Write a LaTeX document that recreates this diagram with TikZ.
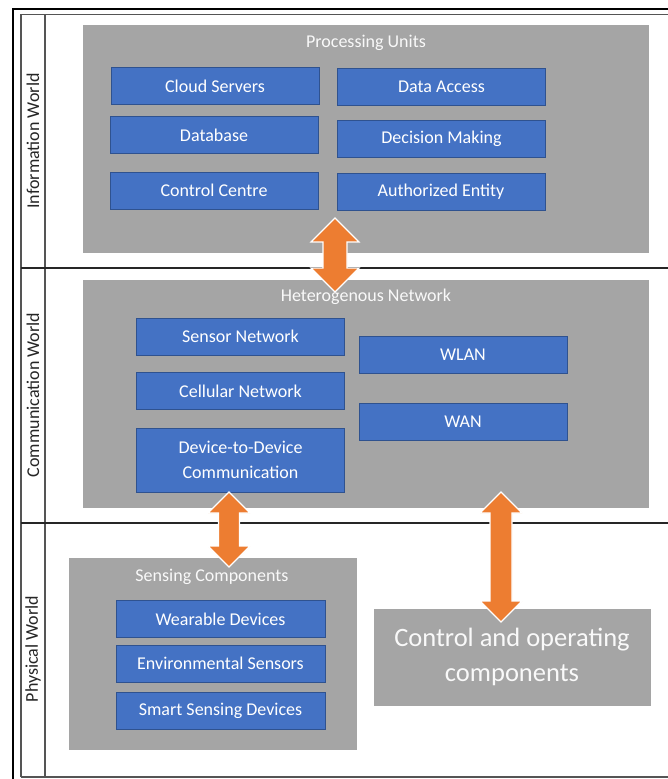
\documentclass[tikz,border=0pt]{standalone}
\usepackage{fontspec}
\setmainfont{Carlito}
\definecolor{boxgray}{HTML}{A5A5A5}
\definecolor{boxblue}{HTML}{4472C4}
\definecolor{blueedge}{HTML}{2F528F}
\definecolor{arroworange}{HTML}{ED7D31}
\definecolor{framegray}{HTML}{555555}
\newcommand{\blockarrow}[6]{%
  \filldraw[arrowsty] (#1,#2) -- ({#1+#4},{#2+#6}) -- ({#1+#5},{#2+#6}) -- ({#1+#5},{#3-#6})
   -- ({#1+#4},{#3-#6}) -- (#1,#3) -- ({#1-#4},{#3-#6}) -- ({#1-#5},{#3-#6})
   -- ({#1-#5},{#2+#6}) -- ({#1-#4},{#2+#6}) -- cycle;}
\tikzset{
  graybox/.style={fill=boxgray, draw=white, line width=0.8pt, minimum width=567pt, minimum height=229pt, inner sep=0pt},
  bluebox/.style={fill=boxblue, draw=blueedge, line width=0.9pt, text=white, minimum width=208pt, minimum height=37pt, inner sep=0pt, font=\fontsize{18}{22}\selectfont, align=center},
  titletext/.style={text=white!95!gray, font=\fontsize{18}{22}\selectfont, inner sep=0pt},
  sidelabel/.style={rotate=90, text=black!85, font=\fontsize{18}{22}\selectfont, inner sep=0pt},
  arrowsty/.style={fill=arroworange, draw=white, line width=1.2pt, line join=miter},
  outerline/.style={draw=black, line width=2.6pt},
  innerline/.style={draw=framegray, line width=1.5pt},
  rowline/.style={draw=black!85, line width=1.3pt}
}
\begin{document}
\begin{tikzpicture}[x=1pt,y=-1pt]
\path[use as bounding box] (0,0) rectangle (668,779);
\clip (0,0) rectangle (668,779);
\fill[white] (0,0) rectangle (668,779);
% table frame
\draw[outerline] (13,790) -- (13,9) -- (690,9);
\draw[innerline] (21,777) -- (21,14.5) -- (690,14.5);
\draw[innerline] (21,777) -- (690,777);
\draw[innerline] (45,14.5) -- (45,777);
\draw[rowline] (21,268) -- (690,268);
\draw[rowline] (21,523) -- (690,523);
% side labels
\node[sidelabel] (lInfo) at (33,141) {Information World};
\node[sidelabel] (lComm) at (33,395) {Communication World};
\node[sidelabel] (lPhys) at (33,649) {Physical World};
% Processing units
\node[graybox] (pu) at (365.5,138.5) {};
\node[titletext] (puT) at (366,43) {Processing Units};
\node[bluebox] (cloud) at (215,86) {Cloud Servers};
\node[bluebox] (db) at (214,135) {Database};
\node[bluebox] (cc) at (214,190.5) {Control Centre};
\node[bluebox] (da) at (441.5,87) {Data Access};
\node[bluebox] (dm) at (441.5,138.5) {Decision Making};
\node[bluebox] (ae) at (441,192) {Authorized Entity};
% Heterogenous network
\node[graybox] (hn) at (365.5,393.5) {};
\node[titletext] (hnT) at (366,297) {Heterogenous Network};
\node[bluebox] (sn) at (240.5,336.5) {Sensor Network};
\node[bluebox] (cn) at (240.5,391) {Cellular Network};
\node[bluebox, minimum height=64pt, text depth=0pt] (d2d) at (240.5,460) {Device-to-Device\\[3pt]Communication};
\node[bluebox] (wlan) at (463,354.5) {WLAN};
\node[bluebox] (wan) at (463,421.5) {WAN};
% Sensing components
\node[graybox, minimum width=289pt, minimum height=193pt] (sc) at (212.5,653.5) {};
\node[titletext] (scT) at (212,577) {Sensing Components};
\node[bluebox, minimum width=209pt] (wd) at (220.5,619) {Wearable Devices};
\node[bluebox, minimum width=209pt] (es) at (220.5,663.5) {Environmental Sensors};
\node[bluebox, minimum width=209pt] (ssd) at (220.5,710.5) {Smart Sensing Devices};
% Control and operating components
\node[graybox, minimum width=278pt, minimum height=98pt, text=white!95!gray, align=center, font=\fontsize{26.5}{35}\selectfont] (coc) at (512,657) {Control and operating\\components};
% block arrows
\blockarrow{335}{218}{292}{24}{12}{24}
\blockarrow{229}{492}{567}{21}{10.5}{21}
\blockarrow{501}{492}{622}{21}{11}{21}
\end{tikzpicture}
\end{document}
